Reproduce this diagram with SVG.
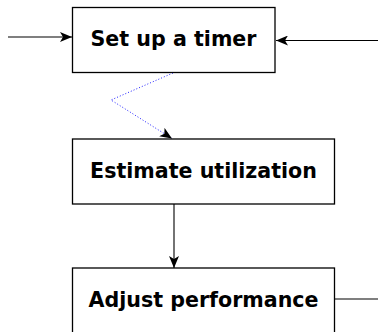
<svg xmlns="http://www.w3.org/2000/svg" width="378" height="332" viewBox="0 0 378 332">
  <style>
    .box { fill: #fff; stroke: #000; stroke-width: 1.3; }
    .label { font-family: "DejaVu Sans", sans-serif; font-weight: bold; font-size: 20.6px; text-anchor: middle; fill: #000; }
    .edge { fill: none; stroke: #000; stroke-width: 1.1; }
    .dotted { fill: none; stroke: #2222ff; stroke-width: 1; stroke-dasharray: 1 2; }
  </style>
  <defs>
    <marker id="arrow" viewBox="0 0 12 10" refX="12" refY="5" markerWidth="12" markerHeight="10" markerUnits="userSpaceOnUse" orient="auto">
      <path d="M0,0 L12,5 L0,10 L3,5 Z" fill="#000"/>
    </marker>
  </defs>

  <g id="connectors">
    <line class="edge" x1="8" y1="37" x2="72" y2="37" marker-end="url(#arrow)"/>
    <line class="edge" x1="378" y1="40.5" x2="276" y2="40.5" marker-end="url(#arrow)"/>
    <polyline class="dotted" points="173,73 111,100 172,138.5" marker-end="url(#arrow)"/>
    <line class="edge" x1="174" y1="204" x2="174" y2="268" marker-end="url(#arrow)"/>
    <line class="edge" x1="335" y1="299" x2="378" y2="299"/>
  </g>

  <g id="set-up-timer">
    <rect class="box" x="72.5" y="7.5" width="202.5" height="65"/>
    <text class="label" x="173.5" y="46">Set up a timer</text>
  </g>

  <g id="estimate-utilization">
    <rect class="box" x="72.5" y="139" width="262" height="65"/>
    <text class="label" x="203.5" y="178">Estimate utilization</text>
  </g>

  <g id="adjust-performance">
    <rect class="box" x="72.5" y="268" width="262" height="70"/>
    <text class="label" x="203.5" y="307">Adjust performance</text>
  </g>
</svg>
